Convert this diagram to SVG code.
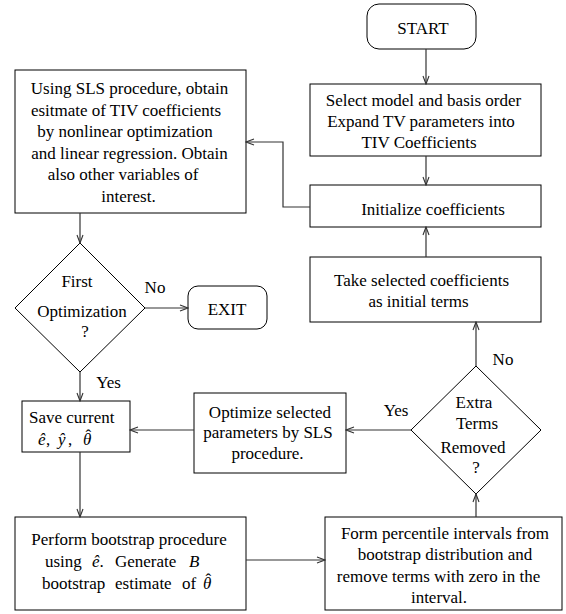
<svg xmlns="http://www.w3.org/2000/svg" width="566" height="614" viewBox="0 0 566 614">
<style>
  .box{fill:#fff;stroke:#000;stroke-width:1}
  .t{font-family:"Liberation Serif","Times New Roman",serif;font-size:17px;fill:#000;text-anchor:middle}
  .s{text-anchor:start}
  .m{font-style:italic}
  .c{fill:none;stroke:#333;stroke-width:1.2}
</style>
<defs>
  <marker id="arr" markerUnits="userSpaceOnUse" markerWidth="10" markerHeight="8" refX="9" refY="4" orient="auto">
    <path d="M1,1 L9,4 L1,7" fill="none" stroke="#333" stroke-width="1.1"/>
  </marker>
</defs>
<rect width="566" height="614" fill="#fff"/>

<g id="start">
  <rect class="box" x="367" y="4" width="109" height="45" rx="12"/>
  <text class="t" x="423" y="34">START</text>
</g>
<g id="select">
  <rect class="box" x="310" y="84" width="231" height="72"/>
  <text class="t" x="423.5" y="106">Select model and basis order</text>
  <text class="t" x="421" y="127">Expand TV parameters into</text>
  <text class="t" x="419" y="148">TIV Coefficients</text>
</g>
<g id="init">
  <rect class="box" x="310" y="185" width="231" height="42"/>
  <text class="t" x="433" y="215">Initialize coefficients</text>
</g>
<g id="take">
  <rect class="box" x="310" y="257" width="231" height="65"/>
  <text class="t" x="421.5" y="286">Take selected coefficients</text>
  <text class="t" x="418.5" y="307">as initial terms</text>
</g>
<g id="sls">
  <rect class="box" x="15" y="70" width="231" height="143"/>
  <text class="t" x="129.5" y="94">Using SLS procedure, obtain</text>
  <text class="t" x="126" y="115.5">esitmate of TIV coefficients</text>
  <text class="t" x="125" y="137">by nonlinear optimization</text>
  <text class="t" x="129.5" y="158.5">and linear regression. Obtain</text>
  <text class="t" x="123" y="180">also other variables of</text>
  <text class="t" x="128.5" y="202">interest.</text>
</g>
<g id="first">
  <polygon class="box" points="80,243 145,308 80,372 15,308"/>
  <text class="t" x="77" y="287">First</text>
  <text class="t" x="82" y="317">Optimization</text>
  <text class="t" x="85" y="337">?</text>
</g>
<g id="exit">
  <rect class="box" x="188" y="286" width="79" height="43" rx="10"/>
  <text class="t" x="227" y="315">EXIT</text>
</g>
<g id="save">
  <rect class="box" x="22" y="401" width="108" height="51"/>
  <text class="t s" x="29" y="423">Save current</text>
  <text class="t s" y="445"><tspan class="m" x="38">ê</tspan><tspan x="46">,</tspan><tspan class="m" x="58">ŷ</tspan><tspan x="68">,</tspan><tspan class="m" x="83">θ</tspan><tspan x="85.5" y="441">ˆ</tspan></text>
</g>
<g id="optimize">
  <rect class="box" x="194" y="393" width="152" height="80"/>
  <text class="t" x="270" y="418">Optimize selected</text>
  <text class="t" x="268" y="438">parameters by SLS</text>
  <text class="t" x="267.5" y="459">procedure.</text>
</g>
<g id="extra">
  <polygon class="box" points="476,366 541,430 476,494 411,430"/>
  <text class="t" x="474" y="408">Extra</text>
  <text class="t" x="477" y="429">Terms</text>
  <text class="t" x="473" y="453">Removed</text>
  <text class="t" x="476" y="473">?</text>
</g>
<g id="perform">
  <rect class="box" x="15" y="517" width="231" height="93"/>
  <text class="t" x="129" y="545">Perform bootstrap procedure</text>
  <text class="t s" y="567"><tspan x="45">using</tspan><tspan class="m" x="92">ê</tspan><tspan x="99.5">.</tspan><tspan x="115">Generate</tspan><tspan class="m" x="189">B</tspan></text>
  <text class="t s" y="589"><tspan x="42">bootstrap</tspan><tspan x="115">estimate</tspan><tspan x="182">of</tspan><tspan class="m" x="203">θ</tspan><tspan x="205.5" y="585">ˆ</tspan></text>
</g>
<g id="form">
  <rect class="box" x="325" y="517" width="237" height="93"/>
  <text class="t" x="445" y="539">Form percentile intervals from</text>
  <text class="t" x="445" y="560">bootstrap distribution and</text>
  <text class="t" x="438.5" y="582">remove terms with zero in the</text>
  <text class="t" x="439" y="603">interval.</text>
</g>

<g id="connectors">
  <line class="c" x1="426" y1="49" x2="426" y2="84" marker-end="url(#arr)"/>
  <line class="c" x1="426" y1="156" x2="426" y2="185" marker-end="url(#arr)"/>
  <polyline class="c" points="310,207 283,207 283,142 246,142" marker-end="url(#arr)"/>
  <line class="c" x1="80" y1="213" x2="80" y2="243" marker-end="url(#arr)"/>
  <line class="c" x1="145" y1="308" x2="188" y2="308" marker-end="url(#arr)"/>
  <line class="c" x1="80" y1="372" x2="80" y2="401" marker-end="url(#arr)"/>
  <line class="c" x1="80" y1="452" x2="80" y2="517" marker-end="url(#arr)"/>
  <line class="c" x1="246" y1="560" x2="325" y2="560" marker-end="url(#arr)"/>
  <line class="c" x1="476" y1="517" x2="476" y2="494" marker-end="url(#arr)"/>
  <line class="c" x1="476" y1="366" x2="476" y2="322" marker-end="url(#arr)"/>
  <line class="c" x1="426" y1="257" x2="426" y2="227" marker-end="url(#arr)"/>
  <line class="c" x1="411" y1="430" x2="346" y2="430" marker-end="url(#arr)"/>
  <line class="c" x1="194" y1="430" x2="130" y2="430" marker-end="url(#arr)"/>
  <text class="t" x="155" y="293">No</text>
  <text class="t" x="108.5" y="388">Yes</text>
  <text class="t" x="503" y="365">No</text>
  <text class="t" x="396" y="416">Yes</text>
</g>
</svg>
